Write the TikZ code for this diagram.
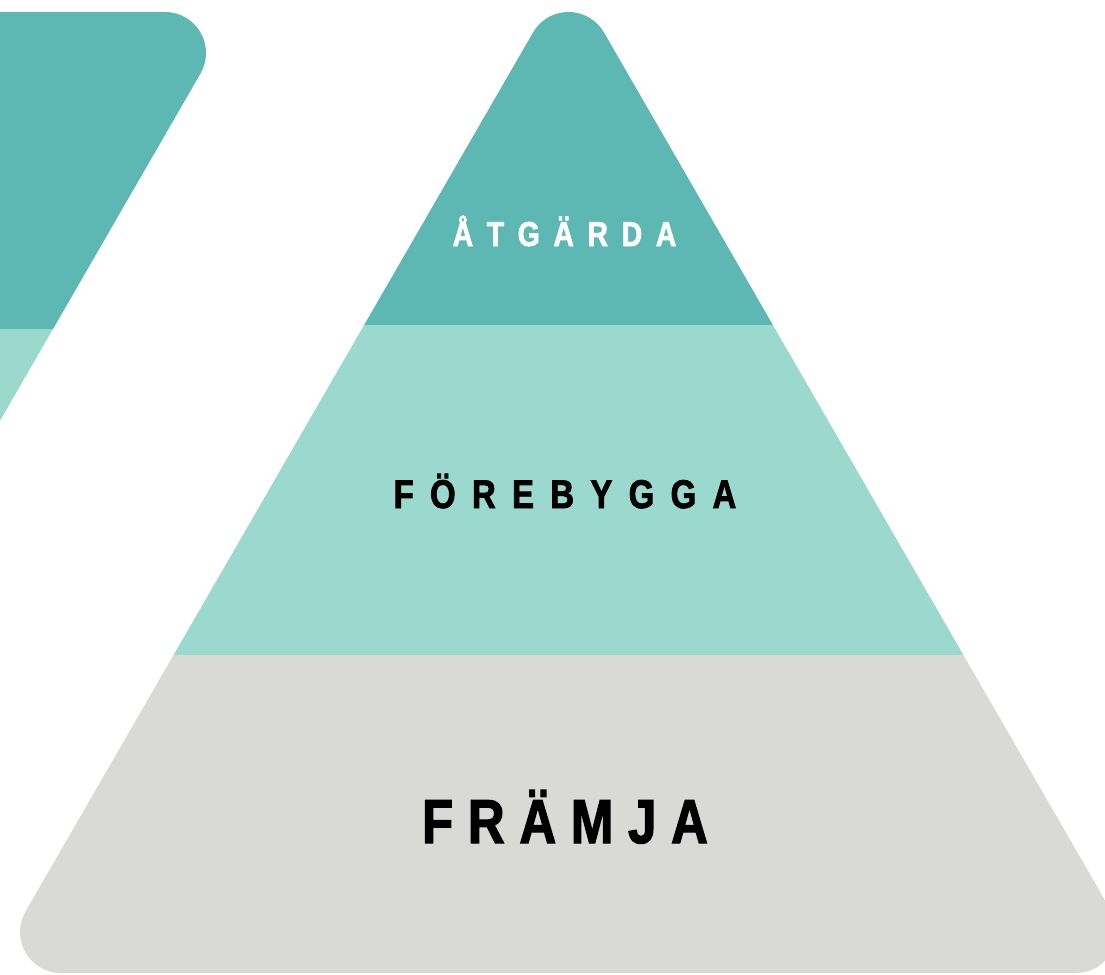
\documentclass[tikz,border=0pt]{standalone}
\usepackage{fontspec}
\newfontfamily\dinfont{Liberation Sans Bold}[FakeStretch=0.82,FakeBold=2]
\definecolor{teal1}{RGB}{93,184,179}
\definecolor{mint1}{RGB}{155,217,206}
\definecolor{gray1}{RGB}{217,218,214}
\tikzset{
  lbl/.style={anchor=base, inner sep=0pt},
}
\begin{document}
\begin{tikzpicture}[x=1pt,y=-1pt]
\useasboundingbox (0,0) rectangle (1105,974);
\clip (0,0) rectangle (1105,974);
% left inverted triangle (partial)
\begin{scope}
  \clip (-921,12) -- (165,12) arc[start angle=90, end angle=-30, radius=41pt]
        -- (-342.5,1014) -- cycle;
  \fill[teal1] (-1000,-100) rectangle (400,329.3);
  \fill[mint1] (-1000,329.3) rectangle (400,1100);
\end{scope}
% main pyramid
\begin{scope}
  \clip (533,32.5) arc[start angle=150, end angle=30, radius=41pt]
        -- (1111.5,911.5) arc[start angle=30, end angle=-90, radius=41pt]
        -- (61,973) arc[start angle=-90, end angle=-210, radius=41pt]
        -- cycle;
  \fill[teal1] (-100,-100) rectangle (1300,325.3);
  \fill[mint1] (-100,325.3) rectangle (1300,654.5);
  \fill[gray1] (-100,654.5) rectangle (1300,1100);
\end{scope}
\node[lbl, text=white, font=\dinfont\fontsize{34.5}{40}\selectfont] (atgarda) at (564.5,246)
  {Å\hspace{13.7pt}T\hspace{13.7pt}G\hspace{13.7pt}Ä\hspace{13.7pt}R\hspace{13.7pt}D\hspace{13.7pt}A};
\node[lbl, text=black, font=\dinfont\fontsize{40}{46}\selectfont] (forebygga) at (565,508)
  {F\hspace{16.4pt}Ö\hspace{16.4pt}R\hspace{16.4pt}E\hspace{16.4pt}B\hspace{16.4pt}Y\hspace{16.4pt}G\hspace{16.4pt}G\hspace{16.4pt}A};
\node[lbl, text=black, font=\dinfont\fontsize{62}{70}\selectfont] (framja) at (565,843)
  {F\hspace{14.8pt}R\hspace{14.8pt}Ä\hspace{14.8pt}M\hspace{14.8pt}J\hspace{14.8pt}A};
\end{tikzpicture}
\end{document}
